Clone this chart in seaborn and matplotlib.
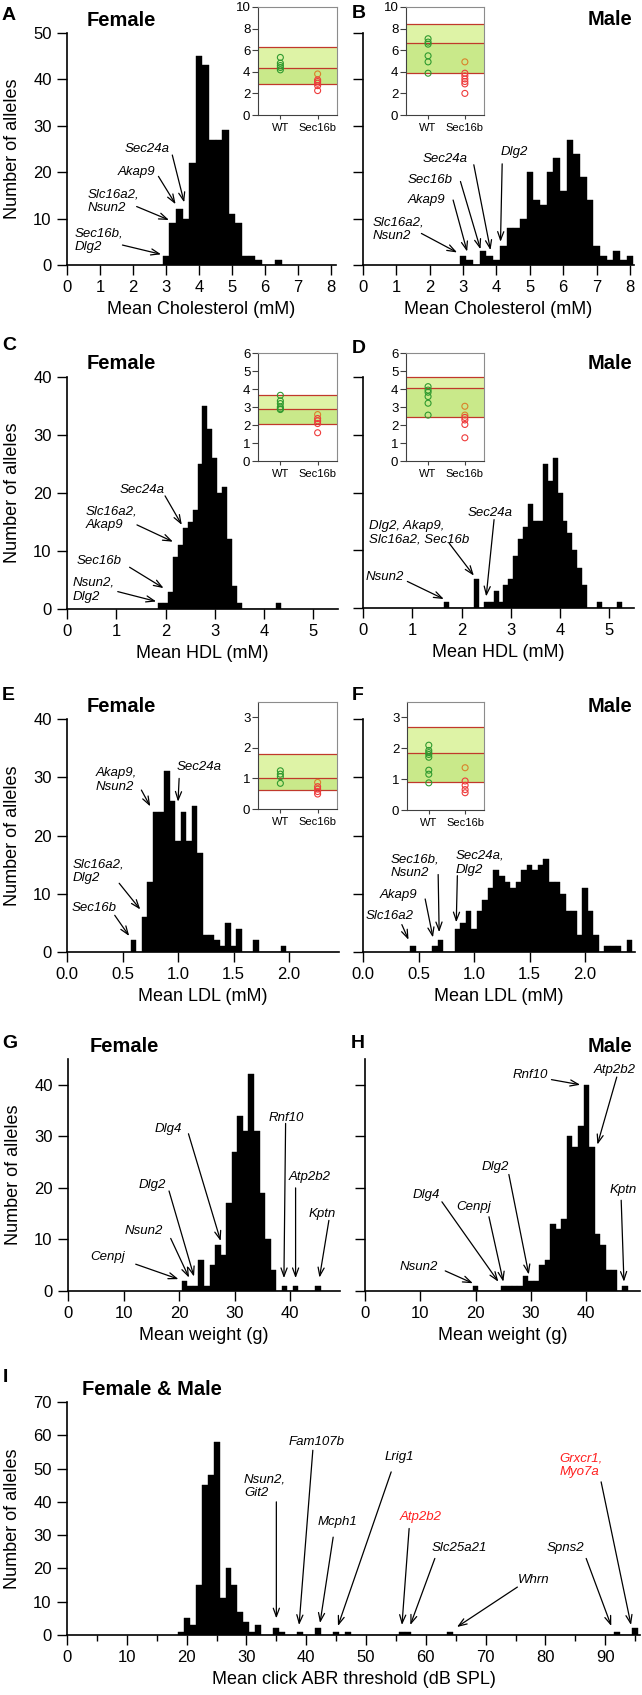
import numpy as np
import matplotlib.pyplot as plt
import seaborn as sns

sns.set_style('ticks')
plt.rcParams['font.family'] = ['Liberation Sans', 'DejaVu Sans']
plt.rcParams['text.color'] = 'black'
plt.rcParams['axes.labelcolor'] = 'black'
plt.rcParams['xtick.color'] = 'black'
plt.rcParams['ytick.color'] = 'black'
plt.rcParams['axes.edgecolor'] = 'black'

# ---- histogram data: bin centres and number of alleles per bin ----
chol_f_x = [3.0, 3.2, 3.4, 3.6, 3.8, 4.0, 4.2, 4.4, 4.6, 4.8, 5.0, 5.2, 5.4, 5.6, 5.8, 6.4]
chol_f_n = [2, 9, 12, 10, 22, 45, 43, 27, 27, 29, 11, 9, 2, 2, 1, 1]
chol_m_x = [3.0, 3.2, 3.6, 3.8, 4.0, 4.2, 4.4, 4.6, 4.8, 5.0, 5.2, 5.4, 5.6, 5.8, 6.0, 6.2,
            6.4, 6.6, 6.8, 7.0, 7.2, 7.4, 7.6, 7.8, 8.0]
chol_m_n = [2, 1, 3, 2, 1, 4, 8, 8, 10, 20, 14, 13, 20, 23, 16, 27, 24, 19, 14, 4, 2, 1, 3, 1, 2]

hdl_f_x = [1.9, 2.0, 2.1, 2.2, 2.3, 2.4, 2.5, 2.6, 2.7, 2.8, 2.9, 3.0, 3.1, 3.2, 3.3, 3.4, 3.5, 4.3]
hdl_f_n = [1, 1, 3, 9, 11, 14, 15, 17, 25, 35, 31, 26, 20, 21, 12, 4, 1, 1]
hdl_m_x = [1.7, 2.3, 2.5, 2.6, 2.7, 2.8, 2.9, 3.0, 3.1, 3.2, 3.3, 3.4, 3.5, 3.6, 3.7, 3.8, 3.9,
           4.0, 4.1, 4.2, 4.3, 4.4, 4.5, 4.8, 5.2]
hdl_m_n = [1, 5, 1, 1, 3, 1, 4, 5, 9, 12, 14, 18, 15, 15, 25, 22, 26, 20, 15, 13, 10, 7, 4, 1, 1]

ldl_f_x = [0.6, 0.7, 0.75, 0.8, 0.85, 0.9, 0.95, 1.0, 1.05, 1.1, 1.15, 1.2, 1.25, 1.3, 1.35,
           1.4, 1.45, 1.5, 1.55, 1.7, 1.95]
ldl_f_n = [2, 6, 12, 24, 24, 31, 26, 19, 24, 19, 25, 17, 3, 3, 2, 1, 5, 1, 4, 2, 1]
ldl_m_x = [0.45, 0.65, 0.7, 0.85, 0.9, 0.95, 1.0, 1.05, 1.1, 1.15, 1.2, 1.25, 1.3, 1.35, 1.4,
           1.45, 1.5, 1.55, 1.6, 1.65, 1.7, 1.75, 1.8, 1.85, 1.9, 1.95, 2.0, 2.05, 2.1, 2.2,
           2.25, 2.3, 2.4]
ldl_m_n = [1, 1, 2, 4, 5, 7, 4, 7, 9, 11, 14, 13, 12, 11, 12, 14, 15, 14, 15, 16, 12, 12, 10,
           7, 7, 3, 11, 7, 3, 1, 1, 1, 2]

wt_f_x = [21, 22, 23, 24, 25, 26, 27, 28, 29, 30, 31, 32, 33, 34, 35, 36, 37, 39, 41, 45]
wt_f_n = [2, 1, 1, 6, 1, 5, 9, 7, 17, 27, 34, 31, 42, 31, 19, 10, 4, 1, 1, 1]
wt_m_x = [20, 25, 26, 27, 28, 29, 30, 31, 32, 33, 34, 35, 36, 37, 38, 39, 40, 41, 42, 43, 44, 45, 47]
wt_m_n = [1, 1, 1, 1, 1, 3, 2, 2, 5, 6, 13, 12, 14, 30, 28, 32, 40, 28, 11, 9, 4, 4, 1]

abr_x = [19, 20, 21, 22, 23, 24, 25, 26, 27, 28, 29, 30, 31, 32, 35, 36, 39, 42, 45, 47, 56, 57,
         64, 92, 95]
abr_n = [1, 5, 3, 15, 45, 48, 58, 11, 20, 15, 7, 4, 1, 3, 2, 1, 1, 2, 1, 1, 1, 1, 1, 1, 2]

# ---- inset data: individual mice (WT vs Sec16b) and reference band (low, mean, high) ----
chol_f_wt = [5.33, 4.8, 4.58, 4.4, 4.18]
chol_f_sec = [3.8, 3.25, 3.1, 2.94, 2.72, 2.26]
chol_f_band = [2.88, 4.33, 6.25]
chol_m_wt = [7.06, 6.75, 6.56, 5.48, 4.92, 3.87]
chol_m_sec = [4.92, 3.87, 3.62, 3.34, 3.1, 2.88, 2.0]
chol_m_band = [3.87, 6.66, 8.42]
hdl_f_wt = [3.65, 3.34, 3.19, 3.0, 2.9, 2.86]
hdl_f_sec = [2.58, 2.36, 2.23, 2.08, 1.57]
hdl_f_band = [2.03, 2.91, 3.69]
hdl_m_wt = [4.13, 3.94, 3.82, 3.58, 3.21, 2.55]
hdl_m_sec = [3.04, 2.55, 2.42, 2.28, 2.03, 1.29]
hdl_m_band = [2.42, 4.03, 4.67]
ldl_f_wt = [1.25, 1.14, 1.06, 0.84]
ldl_f_sec = [0.87, 0.73, 0.65, 0.57, 0.49]
ldl_f_band = [0.63, 1.02, 1.81]
ldl_m_wt = [2.1, 1.93, 1.86, 1.8, 1.71, 1.29, 1.16, 0.88]
ldl_m_sec = [1.37, 0.94, 0.8, 0.66, 0.56]
ldl_m_band = [0.91, 1.86, 2.68]

W, H = 642, 1695
fig = plt.figure(figsize=(W / 100, H / 100), dpi=100)


def box(x0, x1, y0, y1):
    # pixel box (top-left origin) -> figure fraction
    return [x0 / W, 1 - y1 / H, (x1 - x0) / W, (y1 - y0) / H]


def ftext(x, y, s, **kw):
    fig.text(x / W, 1 - y / H, s, **kw)


def hist_panel(rect, xs, ns, width, xlim, ylim, xticks, yticks, xlabel, left_col, xfmt='{:g}'):
    ax = fig.add_axes(rect)
    sns.histplot(x=xs, weights=ns, binwidth=width,
                 binrange=(min(xs) - width / 2, max(xs) + width / 2),
                 color='black', edgecolor='black', linewidth=0.3, alpha=1, ax=ax)
    ax.set_xlim(xlim)
    ax.set_ylim(ylim)
    ax.set_xticks(xticks)
    ax.set_xticklabels([xfmt.format(t) for t in xticks])
    ax.set_yticks(yticks)
    sns.despine(ax=ax)
    for s in ['left', 'bottom']:
        ax.spines[s].set_linewidth(1.2)
    ax.tick_params(direction='out', length=7, width=1, labelsize=12, pad=4)
    ax.set_xlabel(xlabel, fontsize=13, labelpad=4)
    if left_col:
        ax.set_ylabel('Number of alleles', fontsize=13, labelpad=9)
    else:
        ax.set_ylabel('')
        ax.tick_params(labelleft=False)
    return ax


def genes(ax, notes, red=(), size=9.5):
    for text, (tx, ty), ha, start, end in notes:
        ax.text(tx, ty, text, ha=ha, va='center', style='italic', fontsize=size,
                linespacing=1.2, color='#ff2020' if text in red else 'black')
        ax.annotate('', xy=end, xytext=start,
                    arrowprops=dict(arrowstyle='->,head_length=0.6,head_width=0.22',
                                    lw=0.9, color='black', shrinkA=0, shrinkB=0,
                                    mutation_scale=10))


pal = {'wt': '#2f9a2f', 'high': '#d9822b', 'low': '#ee3b3b'}


def inset(rect, wt, sec, band, ylim, yticks, n_high=1):
    ax = fig.add_axes(rect)
    ax.axhspan(band[0], band[1], color='#c9e98a', lw=0, zorder=0)
    ax.axhspan(band[1], band[2], color='#def3a6', lw=0, zorder=0)
    for v in band:
        ax.axhline(v, color='#c0392b', lw=0.9, zorder=1)
    groups = ['WT'] * len(wt) + ['Sec16b'] * len(sec)
    kinds = ['wt'] * len(wt) + ['high'] * n_high + ['low'] * (len(sec) - n_high)
    sns.stripplot(x=groups, y=wt + sec, hue=kinds, palette=pal, order=['WT', 'Sec16b'],
                  jitter=False, size=4.3, legend=False, ax=ax, zorder=3)
    for coll in ax.collections:
        fc = coll.get_facecolors()
        coll.set_edgecolors(fc)
        coll.set_facecolors('none')
        coll.set_linewidth(0.8)
    ax.set_xlim(-0.6, 1.52)
    ax.set_ylim(ylim)
    ax.set_yticks(yticks)
    ax.set_xlabel('')
    ax.set_ylabel('')
    for s in ax.spines.values():
        s.set_visible(True)
        s.set_color('#8c8c8c')
        s.set_linewidth(0.8)
    ax.spines['left'].set_color('#404040')
    ax.spines['bottom'].set_color('#404040')
    ax.tick_params(axis='y', length=4, width=0.8, labelsize=9.5, pad=1.5, color='#404040')
    ax.tick_params(axis='x', length=3, width=0.8, labelsize=8, pad=3, color='#404040')
    return ax


# ---------------- A / B : cholesterol ----------------
axA = hist_panel(box(67, 336, 33, 265), chol_f_x, chol_f_n, 0.2, (0, 8.15), (0, 50),
                 range(0, 9), range(0, 51, 10), 'Mean Cholesterol (mM)', True)
genes(axA, [('Sec24a', (2.43, 25), 'center', (3.19, 23.7), (3.55, 13.5)),
            ('Akap9', (2.11, 20), 'center', (2.77, 19.1), (3.29, 13.1)),
            ('Slc16a2,\nNsun2', (0.61, 13.7), 'left', (2.11, 12.6), (3.09, 9.7)),
            ('Sec16b,\nDlg2', (0.23, 5.3), 'left', (1.68, 4.3), (2.85, 2.3))])
axB = hist_panel(box(363, 634, 33, 265), chol_m_x, chol_m_n, 0.2, (0, 8.12), (0, 50),
                 range(0, 9), range(0, 51, 10), 'Mean Cholesterol (mM)', False)
genes(axB, [('Slc16a2,\nNsun2', (0.3, 7.7), 'left', (1.75, 6.8), (2.82, 2.7)),
            ('Akap9', (1.9, 14), 'center', (2.7, 14), (3.12, 2.9)),
            ('Sec16b', (2.0, 18.3), 'center', (2.92, 18), (3.52, 3.4)),
            ('Sec24a', (2.45, 22.9), 'center', (3.32, 21.6), (3.82, 3.2)),
            ('Dlg2', (4.53, 24.4), 'center', (4.17, 21.8), (4.12, 5))])
inset(box(258, 337, 7, 115), chol_f_wt, chol_f_sec, chol_f_band, (0, 10), range(0, 11, 2))
inset(box(406, 484, 7, 115), chol_m_wt, chol_m_sec, chol_m_band, (0, 10), range(0, 11, 2))

# ---------------- C / D : HDL ----------------
axC = hist_panel(box(67, 338, 377, 609), hdl_f_x, hdl_f_n, 0.1, (0, 5.5), (0, 40),
                 range(0, 6), range(0, 41, 10), 'Mean HDL (mM)', True)
genes(axC, [('Sec24a', (1.52, 20.6), 'center', (1.99, 19.5), (2.33, 14.5)),
            ('Slc16a2,\nAkap9', (0.38, 15.6), 'left', (1.42, 14.5), (2.15, 11.6)),
            ('Sec16b', (0.66, 8.2), 'center', (1.27, 7.2), (1.96, 3.6)),
            ('Nsun2,\nDlg2', (0.12, 3.3), 'left', (1.03, 3.0), (1.81, 1.3))])
axD = hist_panel(box(363, 634, 377, 608), hdl_m_x, hdl_m_n, 0.1, (0, 5.5), (0, 40),
                 range(0, 6), range(0, 41, 10), 'Mean HDL (mM)', False)
genes(axD, [('Nsun2', (0.44, 5.3), 'center', (0.9, 4.6), (1.64, 1.55)),
            ('Dlg2, Akap9,\nSlc16a2, Sec16b', (0.12, 13), 'left', (1.75, 11.2), (2.25, 5.6)),
            ('Sec24a', (2.59, 16.4), 'center', (2.66, 15.3), (2.5, 2))])
inset(box(258, 337, 353, 461), hdl_f_wt, hdl_f_sec, hdl_f_band, (0, 6), range(0, 7))
inset(box(406, 484, 353, 461), hdl_m_wt, hdl_m_sec, hdl_m_band, (0, 6), range(0, 7), n_high=2)

# ---------------- E / F : LDL ----------------
axE = hist_panel(box(67, 339, 719, 952), ldl_f_x, ldl_f_n, 0.05, (0, 2.45), (0, 40),
                 [0, 0.5, 1.0, 1.5, 2.0], range(0, 41, 10), 'Mean LDL (mM)', True, '{:.1f}')
genes(axE, [('Akap9,\nNsun2', (0.26, 29.5), 'left', (0.67, 27.8), (0.75, 25)),
            ('Sec24a', (1.19, 31.7), 'center', (1.01, 29.8), (1.0, 25.8)),
            ('Slc16a2,\nDlg2', (0.054, 13.9), 'left', (0.47, 11.8), (0.66, 7.3)),
            ('Sec16b', (0.24, 7.5), 'center', (0.43, 6.3), (0.56, 2.75))])
axF = hist_panel(box(363, 635, 719, 952), ldl_m_x, ldl_m_n, 0.05, (0, 2.45), (0, 40),
                 [0, 0.5, 1.0, 1.5, 2.0], range(0, 41, 10), 'Mean LDL (mM)', False, '{:.1f}')
genes(axF, [('Slc16a2', (0.24, 6.1), 'center', (0.35, 4.7), (0.41, 2.1)),
            ('Akap9', (0.32, 9.7), 'center', (0.56, 9.1), (0.63, 2.5)),
            ('Sec16b,\nNsun2', (0.25, 14.7), 'left', (0.677, 13.3), (0.686, 3.4)),
            ('Sec24a,\nDlg2', (0.83, 15.3), 'left', (0.85, 13.1), (0.84, 5.1))])
inset(box(258, 337, 702, 809), ldl_f_wt, ldl_f_sec, ldl_f_band, (0, 3.5), range(0, 4))
inset(box(407, 484, 702, 810), ldl_m_wt, ldl_m_sec, ldl_m_band, (0, 3.5), range(0, 4))

# ---------------- G / H : body weight ----------------
axG = hist_panel(box(68, 340, 1059, 1291), wt_f_x, wt_f_n, 1, (0, 49), (0, 45),
                 range(0, 41, 10), range(0, 41, 10), 'Mean weight (g)', True)
genes(axG, [('Dlg4', (18.1, 31.5), 'center', (21.7, 30.5), (27.5, 9.7)),
            ('Rnf10', (39.3, 33.6), 'center', (39.2, 32.5), (38.9, 2.5)),
            ('Atp2b2', (43.5, 22.1), 'center', (41, 20), (41, 2.5)),
            ('Kptn', (45.8, 15), 'center', (47, 13.7), (45.3, 2.6)),
            ('Dlg2', (15.2, 20.5), 'center', (18.2, 19.4), (22.7, 2.8)),
            ('Nsun2', (13.7, 11.7), 'center', (18.5, 10.2), (21.8, 2.6)),
            ('Cenpj', (7.1, 6.5), 'center', (12.2, 5.2), (19.9, 2.3))])
axH = hist_panel(box(365, 640, 1059, 1291), wt_m_x, wt_m_n, 1, (0, 49.7), (0, 45),
                 range(0, 41, 10), range(0, 41, 10), 'Mean weight (g)', False)
genes(axH, [('Rnf10', (29.8, 41.8), 'center', (33.7, 41), (38.9, 40)),
            ('Atp2b2', (45.2, 42.8), 'center', (45.5, 41.5), (42, 28.4)),
            ('Kptn', (46.7, 19.5), 'center', (46.3, 17.6), (46.8, 1.8)),
            ('Dlg2', (23.5, 24), 'center', (26, 22.6), (29.6, 3.2)),
            ('Dlg4', (11.1, 18.6), 'center', (13.9, 17.3), (24.1, 1.8)),
            ('Cenpj', (19.7, 16.3), 'center', (22.4, 14.4), (25, 1.8)),
            ('Nsun2', (9.8, 4.6), 'center', (14.5, 3.9), (19.5, 1.5))])

# ---------------- I : ABR threshold ----------------
axI = hist_panel(box(67, 640, 1402, 1635), abr_x, abr_n, 1, (0, 95.8), (0, 70),
                 range(0, 91, 10), range(0, 71, 10), 'Mean click ABR threshold (dB SPL)', True)
axI.set_xticks(range(5, 96, 10), minor=True)
axI.tick_params(which='minor', direction='out', length=4, width=1)
genes(axI, [('Nsun2,\nGit2', (29.6, 44.7), 'left', (35, 40), (35, 5)),
            ('Fam107b', (41.7, 58), 'center', (41.1, 55.5), (38.8, 3)),
            ('Mcph1', (45.2, 33.9), 'center', (44.5, 29.4), (42.3, 3.6)),
            ('Lrig1', (55.5, 53.5), 'center', (54.2, 49), (45.3, 2.7)),
            ('Atp2b2', (59.2, 35.4), 'center', (57.2, 32), (56, 3)),
            ('Slc25a21', (65.6, 26.1), 'center', (61.5, 23), (57.4, 3)),
            ('Whrn', (78.1, 16.5), 'center', (75.3, 14.4), (65.2, 2.4)),
            ('Spns2', (83.4, 26.1), 'center', (86.8, 23), (91, 2.7)),
            ('Grxcr1,\nMyo7a', (82.3, 51), 'left', (89.3, 46), (94.3, 3))],
      red=('Atp2b2', 'Grxcr1,\nMyo7a'))

# ---------------- panel letters and titles ----------------
for letter, x, y in [('A', 2, 20), ('B', 352, 18), ('C', 2, 350), ('D', 352, 353),
                     ('E', 2, 700), ('F', 352, 700), ('G', 2, 1048), ('H', 351, 1048),
                     ('I', 3, 1382)]:
    ftext(x, y, letter, fontsize=14, fontweight='bold', ha='left', va='baseline')

for title, x, y, ha in [('Female', 87, 26, 'left'), ('Male', 632, 25, 'right'),
                        ('Female', 87, 369, 'left'), ('Male', 632, 369, 'right'),
                        ('Female', 87, 712, 'left'), ('Male', 632, 712, 'right'),
                        ('Female', 90, 1052, 'left'), ('Male', 632, 1052, 'right'),
                        ('Female & Male', 82, 1395, 'left')]:
    ftext(x, y, title, fontsize=14.5, fontweight='bold', ha=ha, va='baseline')

plt.savefig('out.png', dpi=100)
